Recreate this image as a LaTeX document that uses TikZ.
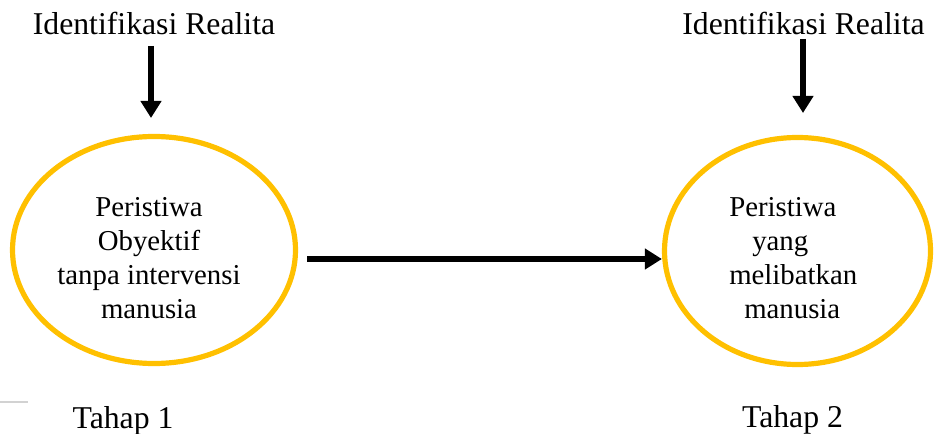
\documentclass[tikz,border=0pt]{standalone}
\usepackage{fontspec}
\setmainfont{Liberation Serif}
\usetikzlibrary{arrows.meta,shapes.geometric}
\definecolor{ringgold}{HTML}{FFC000}
\begin{document}
\begin{tikzpicture}[x=0.75pt,y=-0.75pt,
  ring/.style={ellipse,draw=ringgold,line width=3.9pt,inner sep=0pt},
  bigtxt/.style={font=\fontsize{23.8pt}{28pt}\selectfont,inner sep=0pt,anchor=base},
  intxt/.style={font=\fontsize{21.6pt}{25.5pt}\selectfont,inner sep=0pt},
  arr/.style={line width=4.5pt,-{Triangle[length=12.75pt,width=15pt]}}]
\useasboundingbox (0,0) rectangle (934,434);
% gray artifact line
\draw[gray!35,line width=1.2pt] (0,401.7) -- (28,401.7);
% titles
\node[bigtxt] (t1) at (154,35) {Identifikasi Realita};
\node[bigtxt] (t2) at (803.5,35) {Identifikasi Realita};
% ellipses
\node[ring,minimum width=212.25pt,minimum height=170.25pt] (L) at (154,250) {};
\node[ring,minimum width=199.5pt,minimum height=170.25pt] (R) at (797.5,251) {};
% ellipse texts
\node[intxt,align=center] (Ltxt) at (149,258) {Peristiwa\\Obyektif\\tanpa intervensi\\manusia};
\node[intxt,align=left,anchor=west] (Rtxt) at (729,258) {Peristiwa\\\hspace*{17.25pt}yang\\melibatkan\\\hspace*{11.25pt}manusia};
% stage labels
\node[bigtxt] (s1) at (123,428) {Tahap 1};
\node[bigtxt] (s2) at (792.5,427) {Tahap 2};
% arrows
\coordinate (v1s) at (151,46);
\coordinate (v1e) at (151,118);
\coordinate (v2s) at (803,39);
\coordinate (v2e) at (803,113);
\coordinate (hs) at (307,259);
\draw[arr] (v1s) -- (v1e);
\draw[arr] (v2s) -- (v2e);
\draw[arr] (hs) -- (R.west |- hs);
\end{tikzpicture}
\end{document}
